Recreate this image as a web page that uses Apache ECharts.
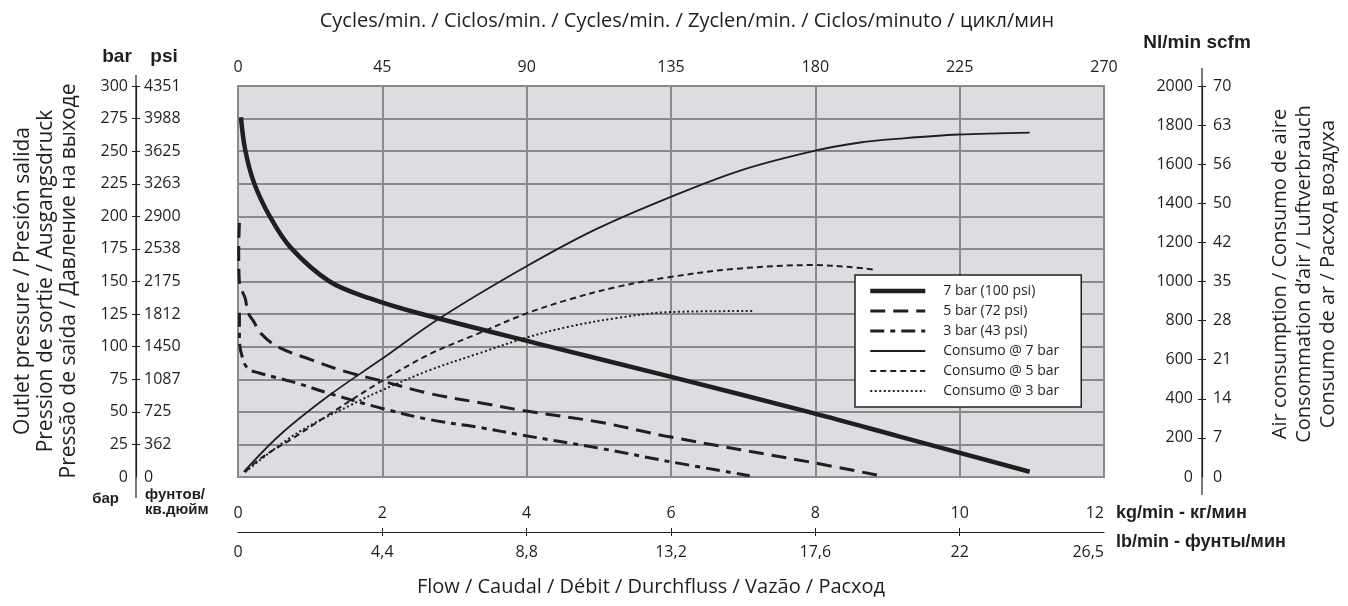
<!DOCTYPE html>
<html>
<head>
<meta charset="utf-8">
<script src="https://cdn.jsdelivr.net/npm/echarts@6/dist/echarts.min.js"></script>
<style>
  html, body { margin: 0; padding: 0; background: #fff; }
  #chart { width: 1348px; height: 606px; }
</style>
</head>
<body>
<div id="chart"></div>
<script>
// Outlet pressure (bar) against flow (kg/min)
const pressure7Flow = [0.04, 0.10, 0.22, 0.44, 0.73, 1.27, 1.83, 2.48, 4.25, 5.99, 7.97, 9.17, 10.97];
const pressure7Bar  = [276, 251, 226, 200, 176, 150, 137, 126, 101, 77, 49, 31, 4];

const pressure5Flow = [0.02, 0.01, 0.02, 0.1, 0.14, 0.21, 0.32, 0.55, 1.01, 1.48, 1.97, 2.66, 3.35, 3.95, 5.02, 5.96, 7.97, 8.9];
const pressure5Bar  = [195, 174, 149, 137, 126, 120, 110, 100, 90, 81, 74, 64, 57, 51, 42, 31, 11, 1];

const pressure3Flow = [0.02, 0.02, 0.09, 0.17, 0.28, 0.55, 0.82, 1.27, 1.97, 2.66, 3.35, 3.95, 5.02, 5.96, 7.09];
const pressure3Bar  = [126, 105, 87, 82, 80, 76, 72, 64, 53, 44, 38, 32, 22, 12, 1];

// Air consumption (Nl/min) against flow (kg/min)
const cons7Flow = [0.08, 0.58, 1.27, 1.97, 2.80, 3.98, 4.97, 5.99, 6.98, 7.97, 8.62, 9.17, 9.98, 10.97];
const cons7Nl   = [26, 215, 419, 598, 813, 1074, 1269, 1432, 1570, 1667, 1711, 1731, 1752, 1762];

const cons5Flow = [0.10, 0.32, 0.79, 1.25, 1.97, 2.66, 3.35, 3.98, 4.56, 5.25, 5.99, 6.86, 7.97, 8.48, 8.85];
const cons5Nl   = [26, 97, 205, 317, 486, 629, 737, 834, 905, 972, 1023, 1064, 1084, 1074, 1059];

const cons3Flow = [0.10, 0.82, 1.65, 1.97, 2.66, 3.35, 3.98, 4.56, 5.25, 5.99, 7.14];
const cons3Nl   = [26, 225, 384, 440, 547, 634, 711, 767, 813, 844, 849];

// Tick labels of the paired scales
const psiLabels  = ['0', '362', '725', '1087', '1450', '1812', '2175', '2538', '2900', '3263', '3625', '3988', '4351'];
const scfmLabels = ['0', '7', '14', '21', '28', '35', '42', '50', '56', '63', '70'];
const lbLabels   = ['0', '4,4', '8,8', '13,2', '17,6', '22', '26,5'];

const seriesNames = ['7 bar (100 psi)', '5 bar (72 psi)', '3 bar (43 psi)', 'Consumo @ 7 bar', 'Consumo @ 5 bar', 'Consumo @ 3 bar'];
const lineWidths  = [4.5, 3, 3, 1.8, 2, 2];
const lineTypes   = ['solid', [15, 8], [14, 6, 5, 6], 'solid', [6, 4], [2, 2.5]];

const INK = '#1f1f1f';
const GRIDC = '#8a8a8a';
const FONT = '"Open Sans", "Noto Sans", sans-serif';
const BOLD = '"Liberation Sans", Arial, sans-serif';

const zip = (xs, ys) => xs.map((x, i) => [x, ys[i]]);

function curve(idx, xs, ys, yAxisIndex) {
  return {
    name: seriesNames[idx], type: 'line', xAxisIndex: 0, yAxisIndex,
    data: zip(xs, ys), smooth: 0.35, symbol: 'none', silent: true,
    lineStyle: { color: INK, width: lineWidths[idx], type: lineTypes[idx], cap: 'butt' },
    itemStyle: { color: INK }
  };
}

const chart = echarts.init(document.getElementById('chart'), null, { renderer: 'canvas' });

const tickLabel = { color: INK, fontFamily: FONT, fontSize: 16 };
const ticks = (from, step, n) => Array.from({ length: n }, (_, i) => from + step * i);

function vText(text, x, y, size) {
  return { type: 'text', x, y, rotation: Math.PI / 2,
    style: { text, fill: INK, font: size + 'px ' + FONT, textAlign: 'center', textVerticalAlign: 'middle' } };
}
function hText(text, x, y, font, align) {
  return { type: 'text', x, y,
    style: { text, fill: INK, font, textAlign: align || 'center', textVerticalAlign: 'middle' } };
}

chart.setOption({
  animation: false,
  backgroundColor: '#ffffff',
  grid: { left: 238, right: 244, top: 86, bottom: 129, show: true,
          backgroundColor: '#dcdde0', borderColor: GRIDC, borderWidth: 2 },
  legend: {
    data: seriesNames.map((name, i) => ({
      name,
      itemStyle: { opacity: 0 },
      lineStyle: { width: lineWidths[i], type: lineTypes[i], color: INK }
    })),
    orient: 'vertical', left: 855, top: 275,
    backgroundColor: '#ffffff', borderColor: '#222', borderWidth: 1.5,
    padding: [9, 22, 9, 13], itemWidth: 55, itemHeight: 14, itemGap: 6,
    textStyle: { color: INK, fontFamily: FONT, fontSize: 14, padding: [0, 0, 0, 13] },
    selectedMode: false
  },
  xAxis: [
    { // kg/min
      type: 'value', position: 'bottom', offset: 55, min: 0, max: 12, interval: 2,
      axisLine: { show: true, onZero: false, lineStyle: { color: INK, width: 1.2 } },
      axisTick: { show: true, inside: true, length: 4, customValues: ticks(2, 2, 5), lineStyle: { color: INK } },
      axisLabel: Object.assign({ inside: true, margin: 11, alignMaxLabel: 'right' }, tickLabel),
      splitLine: { show: true, lineStyle: { color: GRIDC, width: 2 } }
    },
    { // lb/min
      type: 'value', position: 'bottom', offset: 55, min: 0, max: 12, interval: 2,
      axisLine: { show: false, onZero: false },
      axisTick: { show: true, inside: false, length: 4, customValues: ticks(2, 2, 5), lineStyle: { color: INK } },
      axisLabel: Object.assign({ margin: 12, alignMaxLabel: 'right',
        formatter: v => lbLabels[Math.round(v / 2)] }, tickLabel),
      splitLine: { show: false }
    },
    { // cycles per minute
      type: 'value', position: 'top', min: 0, max: 270, interval: 45,
      axisLine: { show: false }, axisTick: { show: false },
      axisLabel: Object.assign({ margin: 11 }, tickLabel),
      splitLine: { show: false }
    }
  ],
  yAxis: [
    { // bar
      type: 'value', position: 'left', offset: 102, min: 0, max: 300, interval: 25,
      axisLine: { show: true, onZero: false, lineStyle: { color: INK, width: 1.2 } },
      axisTick: { show: true, length: 4, customValues: ticks(25, 25, 12), lineStyle: { color: INK } },
      axisLabel: Object.assign({ margin: 8 }, tickLabel),
      splitLine: { show: true, lineStyle: { color: GRIDC, width: 2 } }
    },
    { // psi
      type: 'value', position: 'left', offset: 102, min: 0, max: 300, interval: 25,
      axisLine: { show: false, onZero: false },
      axisTick: { show: true, inside: true, length: 4, customValues: ticks(25, 25, 12), lineStyle: { color: INK } },
      axisLabel: Object.assign({ inside: true, margin: 8,
        formatter: v => psiLabels[Math.round(v / 25)] }, tickLabel),
      splitLine: { show: false }
    },
    { // Nl/min
      type: 'value', position: 'right', offset: 98, min: 0, max: 2000, interval: 200,
      axisLine: { show: true, onZero: false, lineStyle: { color: INK, width: 1.2 } },
      axisTick: { show: true, inside: true, length: 4, customValues: ticks(200, 200, 10), lineStyle: { color: INK } },
      axisLabel: Object.assign({ inside: true, margin: 9, formatter: v => String(v) }, tickLabel),
      splitLine: { show: false }
    },
    { // scfm
      type: 'value', position: 'right', offset: 98, min: 0, max: 2000, interval: 200,
      axisLine: { show: false, onZero: false },
      axisTick: { show: true, length: 4, customValues: ticks(200, 200, 10), lineStyle: { color: INK } },
      axisLabel: Object.assign({ margin: 11,
        formatter: v => scfmLabels[Math.round(v / 200)] }, tickLabel),
      splitLine: { show: false }
    }
  ],
  series: [
    curve(0, pressure7Flow, pressure7Bar, 0),
    curve(1, pressure5Flow, pressure5Bar, 0),
    curve(2, pressure3Flow, pressure3Bar, 0),
    curve(3, cons7Flow, cons7Nl, 2),
    curve(4, cons5Flow, cons5Nl, 2),
    curve(5, cons3Flow, cons3Nl, 2)
  ],
  graphic: [
    // scale lines run a little past the plot height
    { type: 'line', shape: { x1: 136, y1: 75, x2: 136, y2: 498 }, style: { stroke: INK, lineWidth: 1.2 } },
    { type: 'line', shape: { x1: 1202, y1: 68, x2: 1202, y2: 495 }, style: { stroke: INK, lineWidth: 1.2 } },
    hText('Cycles/min. / Ciclos/min. / Cycles/min. / Zyclen/min. / Ciclos/minuto / цикл/мин', 687, 21, '20px ' + FONT),
    hText('Flow / Caudal / Débit / Durchfluss / Vazão / Расход', 651, 587, '20px ' + FONT),
    hText('bar', 117, 57, 'bold 19px ' + BOLD),
    hText('psi', 164, 57, 'bold 19px ' + BOLD),
    hText('Nl/min scfm', 1197, 43, 'bold 19px ' + BOLD),
    hText('бар', 119, 499, 'bold 15px ' + BOLD, 'right'),
    hText('фунтов/', 145, 495, 'bold 15px ' + BOLD, 'left'),
    hText('кв.дюйм', 145, 510, 'bold 15px ' + BOLD, 'left'),
    hText('kg/min - кг/мин', 1116, 513, 'bold 18px ' + BOLD, 'left'),
    hText('lb/min - фунты/мин', 1116, 542, 'bold 18px ' + BOLD, 'left'),
    vText('Outlet pressure / Presión salida', 23, 281, 21),
    vText('Pression de sortie / Ausgangsdruck', 46, 281, 21),
    vText('Pressão de saída / Давление на выходе', 69, 281, 21),
    vText('Air consumption / Consumo de aire', 1280, 274, 20),
    vText('Consommation d\u2019air / Luftverbrauch', 1304, 274, 20),
    vText('Consumo de ar / Расход воздуха', 1328, 274, 20)
  ]
});
</script>
</body>
</html>
